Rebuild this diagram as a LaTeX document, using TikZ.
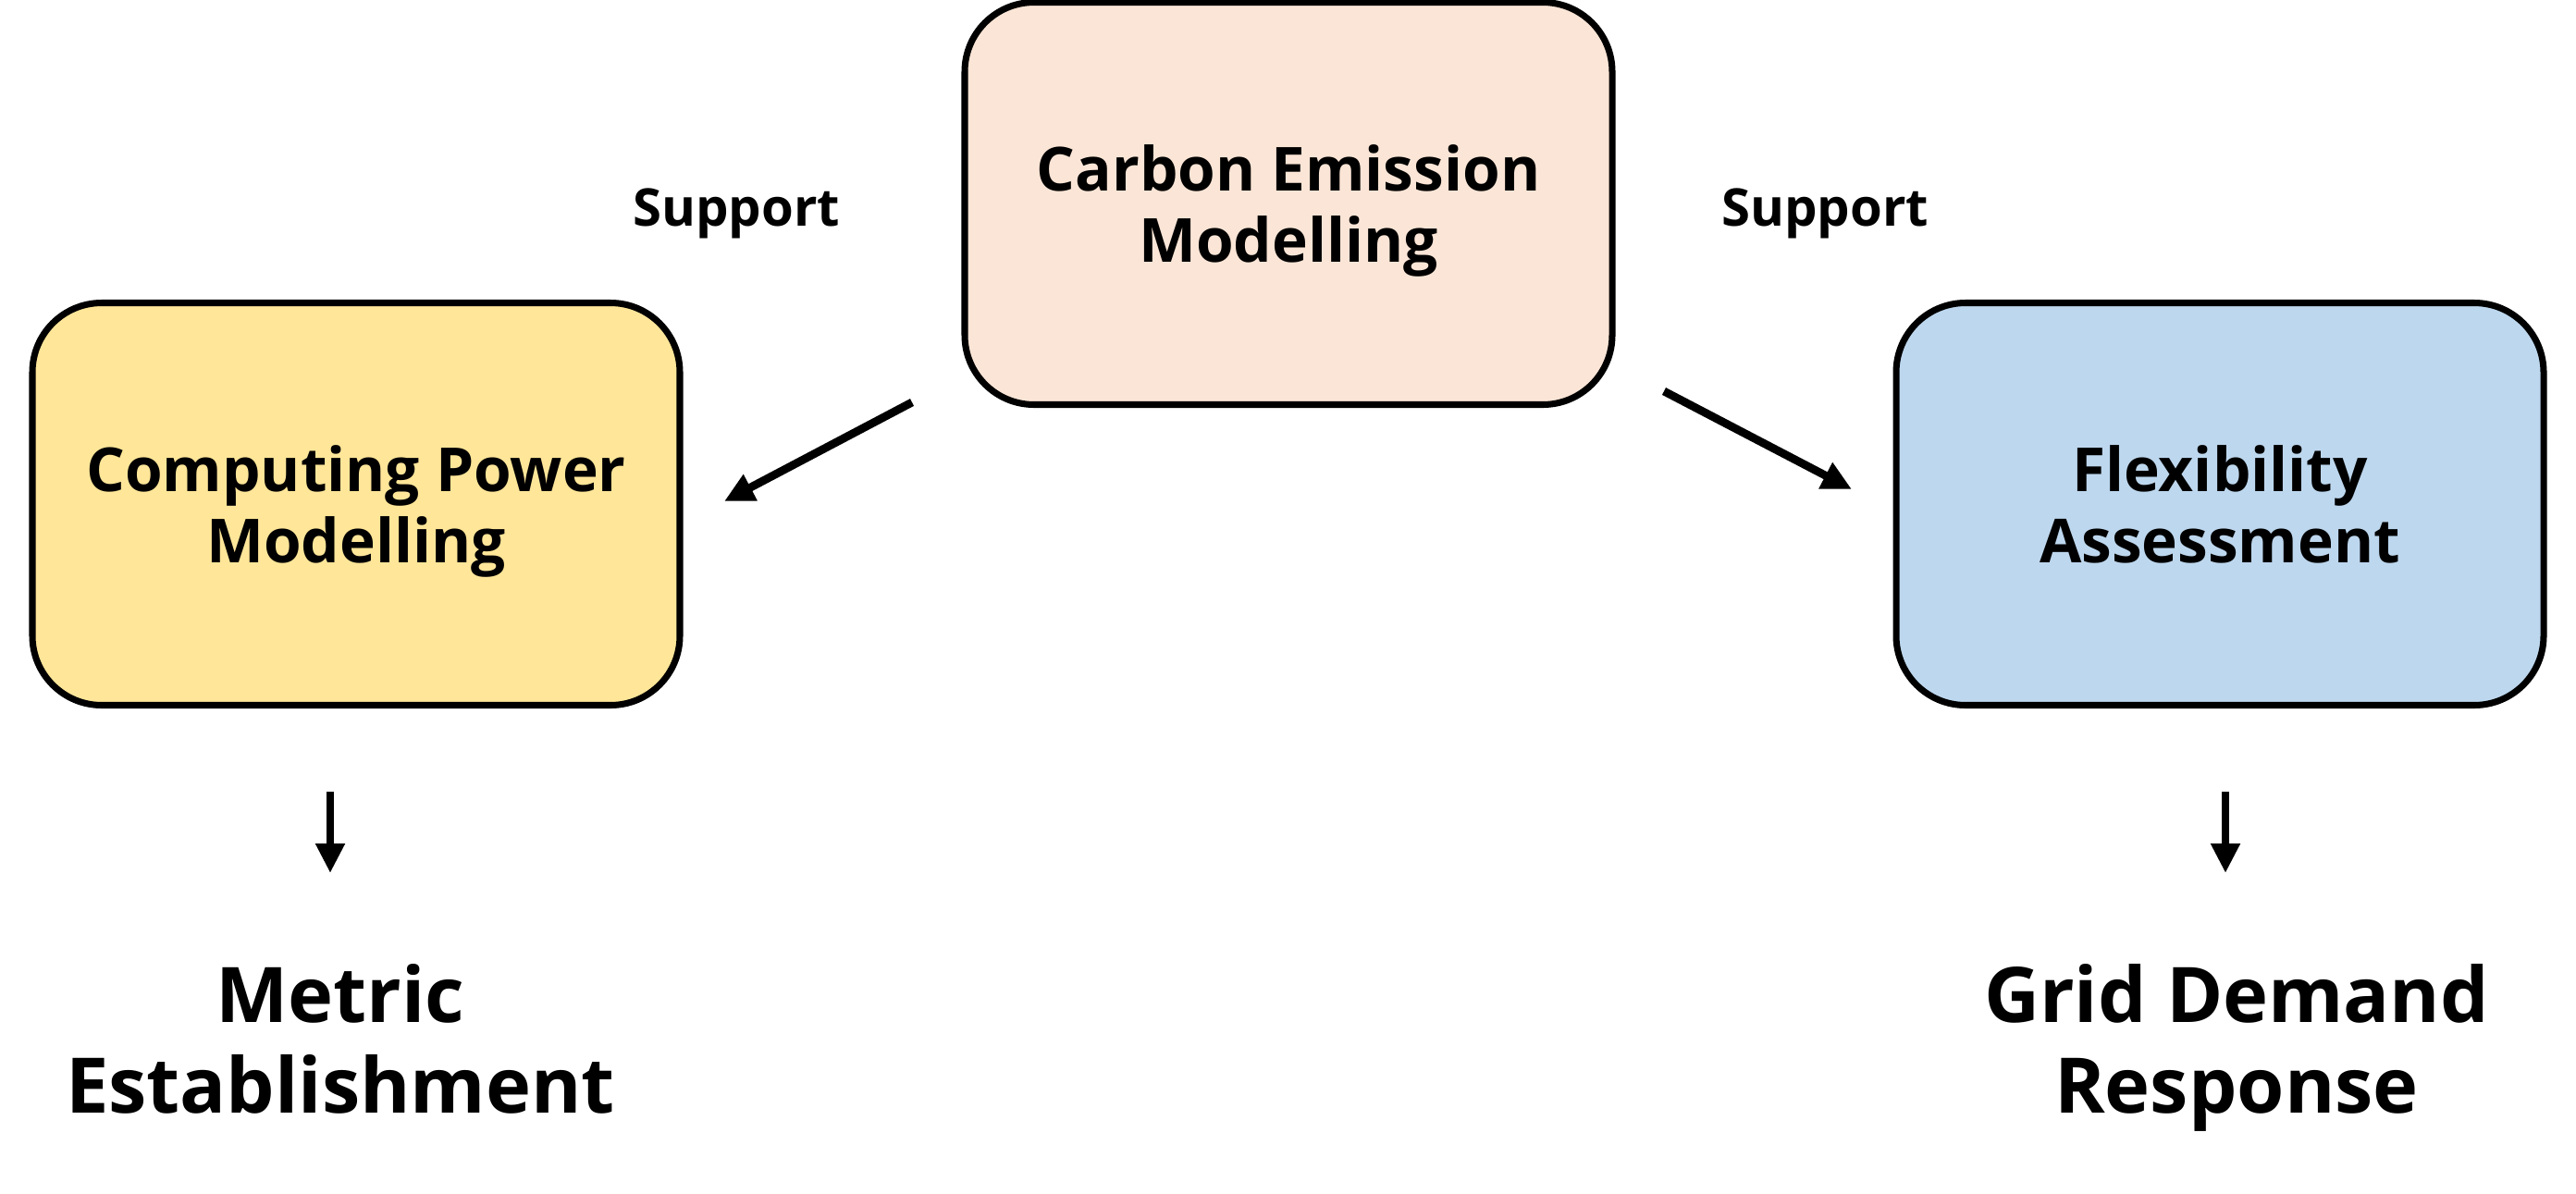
\documentclass[tikz,border=0pt]{standalone}
\usepackage{fontspec}
\setmainfont{Open Sans}
\usepackage{tikz}
\usetikzlibrary{positioning, arrows.meta}

\definecolor{peach}{HTML}{FBE5D6}
\definecolor{paleyellow}{HTML}{FFE699}
\definecolor{paleblue}{HTML}{BDD7EE}

\tikzset{
    box/.style={draw, line width=2pt, rounded corners=0.75cm, minimum width=7cm,
        minimum height=4.35cm, align=center, text depth=0pt,
        font=\fontsize{18.7}{22}\selectfont\bfseries},
    arr/.style={-{Triangle[length=0.32cm, width=0.3cm]}, line width=2.5pt},
    outcome/.style={align=center, text depth=0pt, font=\fontsize{23.6}{28}\selectfont\bfseries},
    supp/.style={text depth=0pt, font=\fontsize{16}{19}\selectfont\bfseries}
}

\begin{document}
\begin{tikzpicture}
    \useasboundingbox (0,0) rectangle (27.85,-12.9);

    % Boxes
    \node[box, fill=peach] (carbon) at (13.93,-2.2) {Carbon Emission\\Modelling};
    \node[box, fill=paleyellow] (computing) at (3.85,-5.45) {Computing Power\\Modelling};
    \node[box, fill=paleblue] (flex) at (24.0,-5.45) {Flexibility\\Assessment};

    % Support labels
    \node[supp] (suppL) at (7.96,-2.24) {Support};
    \node[supp] (suppR) at (19.73,-2.24) {Support};

    % Support arrows
    \coordinate (aL1) at (9.86,-4.35);
    \coordinate (aL2) at (7.83,-5.42);
    \coordinate (aR1) at (17.99,-4.23);
    \coordinate (aR2) at (20.02,-5.29);
    \draw[arr] (aL1) -- (aL2);
    \draw[arr] (aR1) -- (aR2);

    % Outcomes
    \node[outcome] (metric) at (3.68,-11.23) {Metric\\Establishment};
    \node[outcome] (grid) at (24.18,-11.23) {Grid Demand\\Response};

    \coordinate (dL1) at (3.57,-8.56);
    \coordinate (dL2) at (3.57,-9.44);
    \coordinate (dR1) at (24.06,-8.56);
    \coordinate (dR2) at (24.06,-9.44);
    \draw[arr] (dL1) -- (dL2);
    \draw[arr] (dR1) -- (dR2);
\end{tikzpicture}
\end{document}
